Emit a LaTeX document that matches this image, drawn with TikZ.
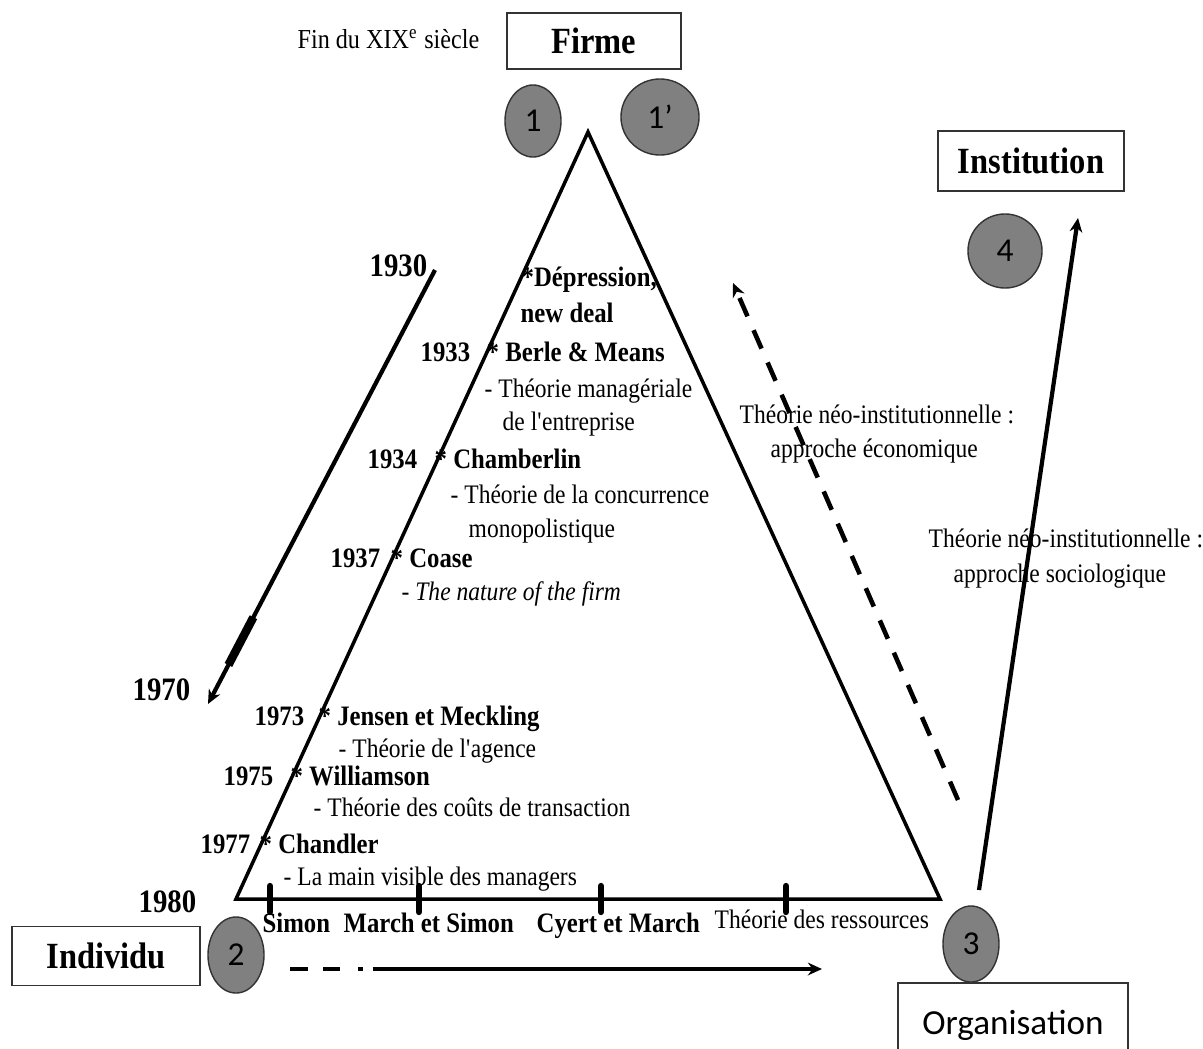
\documentclass[tikz,border=0pt]{standalone}
\usepackage{fontspec}
\setmainfont{Liberation Serif}[FakeStretch=0.88]
\newfontfamily\calibfont{Carlito}
\usetikzlibrary{arrows.meta,shapes.geometric}

\tikzset{
    box/.style={draw=black!80,line width=0.4pt,inner sep=0pt,font=\fontsize{10.5}{12}\selectfont\bfseries},
    num/.style={ellipse,draw=black!80,line width=0.4pt,fill=gray,inner sep=0pt,font=\calibfont\fontsize{9.5}{10}\selectfont},
    txt/.style={anchor=base west,inner sep=0pt,font=\fontsize{7.6}{9}\selectfont},
    btxt/.style={anchor=base west,inner sep=0pt,font=\fontsize{8}{9}\selectfont\bfseries},
    year/.style={anchor=base west,inner sep=0pt,font=\fontsize{9.3}{10}\selectfont\bfseries},
    arr/.style={line width=1.2pt,-{Stealth[length=4pt,width=3.6pt]}},
    tickmark/.style={line width=1.8pt,line cap=round}
}

\begin{document}
\begin{tikzpicture}[x=0.01cm,y=-0.01cm]
    \useasboundingbox (0,0) rectangle (1203,1048);
    \clip (0,0) rectangle (1203,1048);

    \coordinate (A) at (588,132);
    \coordinate (B) at (236,899);
    \coordinate (C) at (940,899);
    \coordinate (P) at (435,270);
    \coordinate (Q) at (208,704);
    \coordinate (R) at (958,800);
    \coordinate (S) at (733,283);
    \coordinate (T) at (979,890);
    \coordinate (U) at (1078,218);
    \coordinate (V) at (290,969);
    \coordinate (W) at (822,969);

    \node[box,minimum width=1.74cm,minimum height=0.56cm] (firme) at (594,41) {Firme};
    \node[box,minimum width=1.86cm,minimum height=0.60cm] (institution) at (1031,161) {Institution};
    \node[box,minimum width=1.88cm,minimum height=0.59cm] (individu) at (106,956) {Individu};
    \node[box,minimum width=2.30cm,minimum height=0.84cm,font=\calibfont\fontsize{10}{12}\selectfont] (organisation) at (1013,1025) {Organisation};

    \node[num,minimum width=0.56cm,minimum height=0.72cm] (c1) at (533,121) {1};
    \node[num,minimum width=0.78cm,minimum height=0.76cm] (c1p) at (660,117) {1’};
    \node[num,minimum width=0.56cm,minimum height=0.76cm] (c2) at (236,955) {2};
    \node[num,minimum width=0.56cm,minimum height=0.76cm] (c3) at (971,944) {3};
    \node[num,minimum width=0.74cm,minimum height=0.74cm] (c4) at (1005,251) {4};

    \draw[line width=1pt] (A) -- (B) -- (C) -- cycle;
    \foreach \x in {270,419,601,786}
        \draw[tickmark] (\x,886) -- (\x,912);

    \draw[arr] (P) -- coordinate[pos=0.80] (P1) coordinate[pos=0.91] (P2) (Q);
    \draw[line width=2.4pt] (P1) -- (P2);
    \draw[arr,line width=1.3pt,dash pattern=on 5.7pt off 4.3pt] (R) -- (S);
    \draw[arr] (T) -- (U);
    \draw[arr,dash pattern=on 5.1pt off 4.3pt on 4.8pt off 5.1pt on 1.4pt off 2.8pt on 200pt] (V) -- (W);

    \node[txt,font=\fontsize{7.8}{9}\selectfont] (fin) at (297,48) {Fin du XIX\textsuperscript{e} siècle};
    \node[year] (y1930) at (369,276) {1930};
    \node[btxt] (depression) at (521,286) {*Dépression,};
    \node[btxt] (newdeal) at (520,322) {new deal};
    \node[btxt] (y1933) at (420,361) {1933};
    \node[btxt] (berle) at (486,361) {* Berle \& Means};
    \node[txt] (manag1) at (484,397) {- Théorie managériale};
    \node[txt] (manag2) at (502,430) {de l\textquotesingle entreprise};
    \node[btxt] (y1934) at (367,468) {1934};
    \node[btxt] (chamberlin) at (434,468) {* Chamberlin};
    \node[txt] (concur1) at (450,503) {- Théorie de la concurrence};
    \node[txt] (concur2) at (468,537) {monopolistique};
    \node[btxt] (y1937) at (330,567) {1937};
    \node[btxt] (coase) at (390,567) {* Coase};
    \node[txt] (nature) at (401,600) {- \textit{The nature of the firm}};
    \node[year] (y1970) at (132,700) {1970};
    \node[btxt] (y1973) at (254,725) {1973};
    \node[btxt] (jensen) at (318,725) {* Jensen et Meckling};
    \node[txt] (agence) at (338,757) {- Théorie de l\textquotesingle agence};
    \node[btxt] (y1975) at (223,785) {1975};
    \node[btxt] (williamson) at (290,785) {* Williamson};
    \node[txt] (couts) at (313,816) {- Théorie des coûts de transaction};
    \node[btxt] (y1977) at (200,853) {1977};
    \node[btxt] (chandler) at (259,853) {* Chandler};
    \node[txt] (mainvis) at (283,885) {- La main visible des managers};
    \node[year] (y1980) at (138,912) {1980};
    \node[btxt] (simon) at (262,932) {Simon};
    \node[btxt] (marchsimon) at (343,932) {March et Simon};
    \node[btxt] (cyert) at (536,932) {Cyert et March};
    \node[txt] (ressources) at (714,928) {Théorie des ressources};
    \node[txt] (neoeco1) at (739,423) {Théorie néo-institutionnelle :};
    \node[txt] (neoeco2) at (770,457) {approche économique};
    \node[txt] (neosoc1) at (928,547) {Théorie néo-institutionnelle :};
    \node[txt] (neosoc2) at (953,582) {approche sociologique};
\end{tikzpicture}
\end{document}
